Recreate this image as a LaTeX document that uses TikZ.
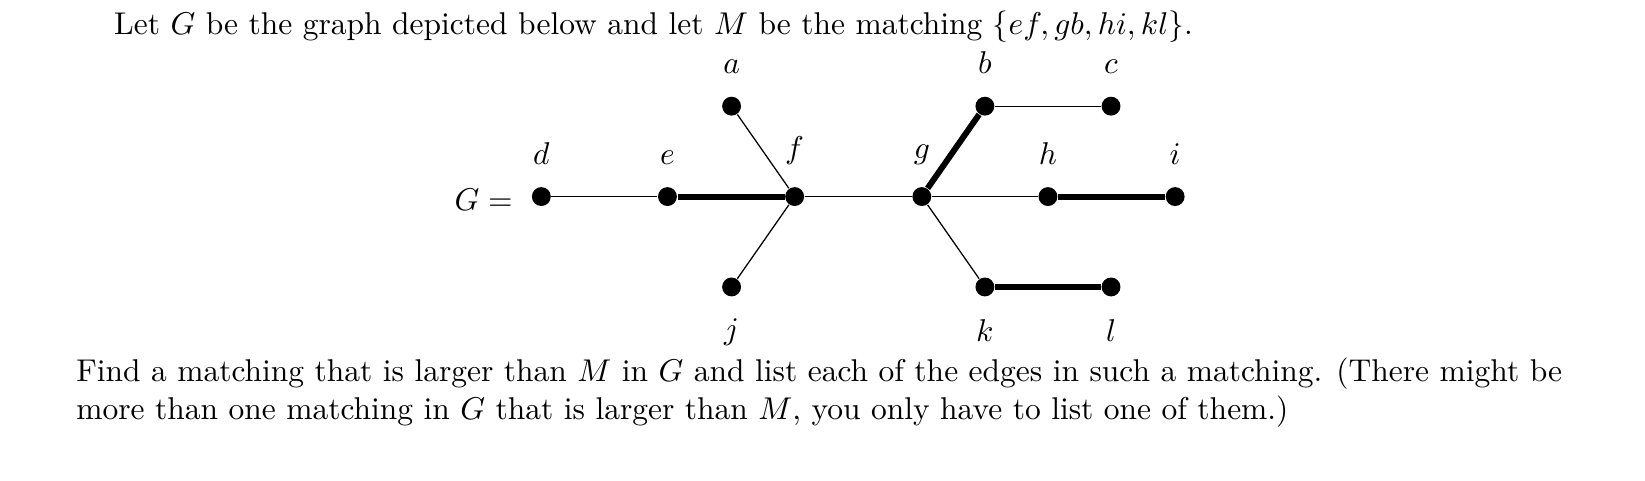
\documentclass[tikz,border=0pt]{standalone}
\usepackage{amsmath}
\usetikzlibrary{positioning}
\begin{document}
\begin{tikzpicture}[x=0.3338pt,y=-0.3338pt,
  every node/.style={font=\fontsize{10pt}{12pt}\selectfont},
  vtx/.style={circle,fill=black,inner sep=0pt,minimum size=6pt},
  plain/.style={line width=0.4pt},
  match/.style={line width=1.9pt}]

\node[anchor=base west,inner sep=0pt] (top) at (108,33)
  {Let $G$ be the graph depicted below and let $M$ be the matching $\{ef, gb, hi, kl\}$.};

\node (Glbl) at (460,190) {$G=$};

\foreach \n/\x/\y/\pos in {d/515/187/above,e/635/187/above,f/756/187/above,
  g/877/187/above,h/997/187/above,i/1118/187/above,
  a/696/101/above,b/937/101/above,c/1057/101/above,
  j/696/273/below,k/937/273/below,l/1057/273/below}{
  \node[vtx,label={[label distance=3.5pt]\pos:$\n$}] (\n) at (\x,\y) {};
}

\draw[plain] (d) -- (e);
\draw[match] (e) -- (f);
\draw[plain] (a) -- (f);
\draw[plain] (j) -- (f);
\draw[plain] (f) -- (g);
\draw[match] (g) -- (b);
\draw[plain] (b) -- (c);
\draw[plain] (g) -- (h);
\draw[match] (h) -- (i);
\draw[plain] (g) -- (k);
\draw[match] (k) -- (l);

\node[anchor=north west,inner sep=0pt,align=left] (bottom) at (72,340)
  {Find a matching that is larger than $M$ in $G$ and list each of the edges in such a matching. (There might be\\
   more than one matching in $G$ that is larger than $M$, you only have to list one of them.)};

\pgfresetboundingbox
\path[use as bounding box] (0,0) rectangle (1565,457);
\end{tikzpicture}
\end{document}
